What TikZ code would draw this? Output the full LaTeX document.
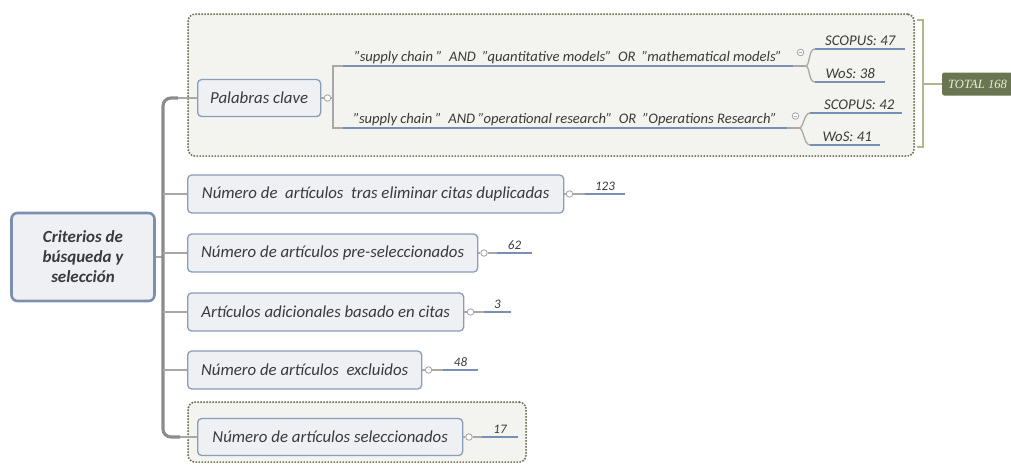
\documentclass[tikz,border=0pt]{standalone}
\usepackage{fontspec}
\usetikzlibrary{calc}
\setmainfont{Carlito}[Ligatures=Common]
\newfontfamily\totalfont{Liberation Serif}
\definecolor{boxfill}{HTML}{EEF0F4}
\definecolor{boxdraw}{HTML}{8A9DB8}
\definecolor{maindraw}{HTML}{7A90AE}
\definecolor{txt}{HTML}{3A3A3A}
\definecolor{ulinec}{HTML}{7890B4}
\definecolor{branchc}{HTML}{A8A8A8}
\definecolor{trunkc}{HTML}{8C8C8C}
\definecolor{grpfill}{HTML}{F3F3EF}
\definecolor{grpdraw}{HTML}{6E7256}
\definecolor{brkc}{HTML}{B0B690}
\definecolor{totfill}{HTML}{6A7652}
\definecolor{tottxt}{HTML}{ECECDC}
\begin{document}
\begin{tikzpicture}[x=1pt,y=-1pt,
  grpbox/.style={draw=grpdraw, fill=grpfill, line width=2.2pt, dash pattern=on 0pt off 3pt, line cap=round, rounded corners=7pt, anchor=north west, inner sep=0pt},
  mainbox/.style={draw=maindraw, fill=boxfill, line width=2.6pt, rounded corners=6pt, minimum width=143pt, minimum height=88pt, align=center, font=\fontsize{17}{20}\selectfont\bfseries\itshape, text=txt},
  topicbox/.style={draw=boxdraw, fill=boxfill, line width=1.3pt, rounded corners=4pt, minimum height=37pt, anchor=west, font=\fontsize{16.8}{18}\selectfont\itshape, text=txt, inner sep=0pt},
  qlab/.style={anchor=south west, inner sep=0pt, minimum height=17pt, font=\fontsize{14.6}{15}\selectfont\itshape, text=txt},
  numlab/.style={anchor=south, inner sep=0pt, minimum height=15pt, font=\fontsize{13}{14}\selectfont\itshape, text=txt},
  dblab/.style={anchor=south west, inner sep=0pt, minimum height=17pt, font=\fontsize{14.8}{16}\selectfont\itshape, text=txt},
  uline/.style={draw=ulinec, line width=2.4pt},
  branch/.style={draw=branchc, line width=1.3pt},
  trunk/.style={draw=trunkc, line width=3.2pt, rounded corners=8pt},
  knob/.style={circle, draw=branchc, fill=white, line width=0.9pt, minimum size=6.5pt, inner sep=0pt},
  brk/.style={draw=brkc, line width=2.8pt},
  totbox/.style={fill=totfill, rounded corners=2pt, minimum height=23pt, anchor=west, inner xsep=6pt, text=tottxt, font=\totalfont\fontsize{12.6}{14}\selectfont\itshape}
]
\useasboundingbox (0,0) rectangle (1011,464);

% group boxes
\node[grpbox, minimum width=726pt, minimum height=142pt] (grp1) at (187,13) {};
\node[grpbox, minimum width=338pt, minimum height=60pt] (grp2) at (187,401) {};

% main node
\node[mainbox] (main) at (83,257) {Criterios de\\búsqueda y\\selección};

% topics
\node[topicbox, minimum width=123pt] (pal) at (197,98) {Palabras clave};
\node[topicbox, minimum width=376pt, minimum height=38pt] (c2) at (187,194) {Número de\ \ artículos\ \ tras eliminar citas duplicadas};
\node[topicbox, minimum width=290pt, minimum height=38pt] (c3) at (187,253) {Número de artículos pre-seleccionados};
\node[topicbox, minimum width=276pt, minimum height=38pt] (c4) at (187,312) {Artículos adicionales basado en citas};
\node[topicbox, minimum width=234pt, minimum height=38pt] (c5) at (187,370) {Número de artículos\ \ excluidos};
\node[topicbox, minimum width=265pt] (c6) at (197,437) {Número de artículos seleccionados};

% trunk
\draw[branch] (main.east) -- (163,257);
\draw[trunk] (178,98) -- (163,98) -- (163,437) -- (180,437);
\draw[branch] (178,98) -- (pal.west);
\draw[branch] (180,437) -- (c6.west);
\draw[branch] (163,194) -- (c2.west);
\draw[branch] (163,253) -- (c3.west);
\draw[branch] (163,312) -- (c4.west);
\draw[branch] (163,370) -- (c5.west);

% Palabras clave branch
\node[knob] (k1) at (327.5,98) {};
\draw[branch] (pal.east) -- (k1.west);
\node[qlab, minimum width=450pt] (q1) at (343,66) {"supply chain "\ \ AND\ \ "quantitative models"\ \ OR\ \ "mathematical models"};
\node[qlab, minimum width=444pt] (q2) at (343,128) {"supply chain "\ \ AND "operational research"\ \ OR\ \ "Operations Research"};
\draw[uline] (q1.south west) -- (q1.south east);
\draw[uline] (q2.south west) -- (q2.south east);
\draw[branch] (q1.south west) -- ++(-10,0) |- (q2.south west);
\draw[branch] (k1.east) -- (333,98);

% database counts
\node[dblab, minimum width=90pt] (s1) at (815,49) {SCOPUS: 47};
\node[dblab, minimum width=70pt] (w1) at (815,82) {WoS: 38};
\node[dblab, minimum width=92pt] (s2) at (810,113) {\hspace*{6pt}SCOPUS: 42};
\node[dblab, minimum width=70pt] (w2) at (810,145) {\hspace*{4pt}WoS: 41};
\foreach \n in {s1,w1,s2,w2} \draw[uline] (\n.south west) -- (\n.south east);
\draw[branch] (q1.south east) -- ++(12,0) coordinate (sp1);
\draw[branch] (sp1) .. controls +(5,0) and +(-7,0) .. (s1.south west);
\draw[branch] (sp1) .. controls +(5,0) and +(-7,0) .. (w1.south west);
\draw[branch] (q2.south east) -- ++(12,0) coordinate (sp2);
\draw[branch] (sp2) .. controls +(4,0) and +(-6,0) .. (s2.south west);
\draw[branch] (sp2) .. controls +(4,0) and +(-6,0) .. (w2.south west);
\node[knob] (k7) at (800.5,52.5) {};
\draw[branchc, line width=0.7pt] ($(k7)+(-1.6,0)$) -- ($(k7)+(1.6,0)$);
\node[knob] (k8) at (795.5,116) {};
\draw[branchc, line width=0.7pt] ($(k8)+(-1.6,0)$) -- ($(k8)+(1.6,0)$);

% total bracket
\draw[brk] (917,20) -- (923,20) -- (923,147) -- (917,147);
\node[totbox] (tot) at (942,84) {TOTAL 168};
\draw[brk] (923,84) -- (tot.west);

% numbers
\node[numlab, minimum width=40pt] (n2) at (605,194) {123};
\node[numlab, minimum width=35pt] (n3) at (514.5,253) {62};
\node[numlab, minimum width=27pt] (n4) at (497.5,312) {3};
\node[numlab, minimum width=35pt] (n5) at (460.5,370) {48};
\node[numlab, minimum width=36pt] (n6) at (500,437) {17};
\foreach \c/\n/\x in {c2/n2/569.5, c3/n3/484, c4/n4/470.5, c5/n5/428.5, c6/n6/469} {
  \node[knob] (k\n) at (\x, 0 |- \c.east) {};
  \draw[branch] (\c.east) -- (k\n.west);
  \draw[branch] (k\n.east) -- (\n.south west);
  \draw[uline] (\n.south west) -- (\n.south east);
}
\end{tikzpicture}
\end{document}
